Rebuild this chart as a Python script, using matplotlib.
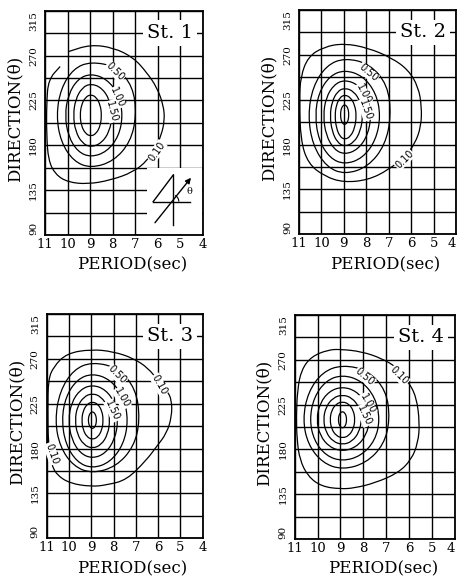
import matplotlib.pyplot as plt
from matplotlib.patches import Rectangle, Arc, PathPatch
from matplotlib.path import Path

plt.rcParams['font.family'] = ['DejaVu Serif']

# axes
periods = [11, 10, 9, 8, 7, 6, 5, 4]
period_labels = ['11', '10', '9', '8', '7', '6', '5', '4']
directions = [90, 135, 180, 225, 270, 315]
direction_labels = ['90', '135', '180', '225', '270', '315']
minor_dirs = [112.5, 157.5, 202.5, 247.5, 292.5]

# contour rings, (period, direction), outer -> inner
# St. 1
st1_r0 = [(9.96, 274), (9.0, 281), (7.97, 278), (7.08, 268), (6.49, 253), (6.04, 238),
          (5.75, 220), (5.7, 205), (5.85, 190), (6.1, 178), (6.45, 165), (7.1, 153),
          (8.1, 145), (9.1, 141), (10.0, 143), (10.55, 151), (10.85, 165), (10.93, 190),
          (10.93, 222), (10.85, 246), (10.33, 259)]
st1_r1 = [(6.95, 210), (7.1, 239), (7.85, 259), (8.97, 264), (9.74, 257), (10.3, 237),
          (10.5, 210), (10.3, 183.5), (9.74, 164), (8.97, 157), (7.96, 164), (7.21, 183.5)]
st1_r2 = [(7.55, 210), (7.73, 231), (8.26, 246.5), (8.97, 252), (9.55, 246.5), (9.97, 231),
          (10.12, 210), (9.97, 189), (9.55, 173.5), (8.97, 168), (8.26, 173.5), (7.73, 189)]
st1_r3 = [(8.02, 210), (8.14, 226), (8.49, 237.8), (8.97, 242), (9.36, 237.8), (9.65, 226),
          (9.75, 210), (9.65, 194), (9.36, 182.2), (8.97, 178), (8.49, 182.2), (8.14, 194)]
st1_r4 = [(8.49, 210), (8.55, 220.5), (8.73, 228.3), (8.97, 231), (9.21, 228.3), (9.39, 220.5),
          (9.45, 210), (9.39, 199.5), (9.21, 191.7), (8.97, 189), (8.73, 191.7), (8.55, 199.5)]

# St. 2
st2_r0 = [(9.0, 281.6), (7.92, 277), (6.87, 267), (6.13, 255), (5.68, 238), (5.53, 218),
          (5.56, 198), (5.83, 181), (6.25, 168.6), (7.02, 154.5), (7.92, 144.5), (9.0, 142),
          (9.85, 148), (10.6, 161), (10.93, 185), (10.98, 225), (10.93, 248), (10.6, 268),
          (9.9, 278)]
st2_r1 = [(6.89, 209), (7.05, 240), (7.85, 261), (8.96, 267), (9.78, 259.5), (10.39, 238),
          (10.6, 209), (10.39, 179.5), (9.78, 157.7), (8.96, 150), (7.92, 157.7), (7.16, 179.5)]
st2_r2 = [(7.36, 209), (7.57, 232), (8.16, 249), (8.96, 255), (9.63, 249), (10.12, 232),
          (10.29, 209), (10.12, 184.5), (9.63, 166.4), (8.96, 160), (8.16, 166.4), (7.57, 184.5)]
st2_r3 = [(7.78, 209), (7.93, 227), (8.37, 240.3), (8.96, 245), (9.44, 240.3), (9.8, 227),
          (9.92, 209), (9.8, 189.5), (9.44, 175.1), (8.96, 170), (8.37, 175.1), (7.93, 189.5)]
st2_r4 = [(8.15, 209), (8.26, 223), (8.55, 233.4), (8.96, 237), (9.29, 233.4), (9.53, 223),
          (9.62, 209), (9.53, 193.5), (9.29, 182), (8.96, 178), (8.55, 182), (8.26, 193.5)]
st2_r5 = [(8.44, 209), (8.51, 219.5), (8.7, 227.3), (8.96, 230), (9.18, 227.3), (9.34, 219.5),
          (9.4, 209), (9.34, 197), (9.18, 188.1), (8.96, 185), (8.7, 188.1), (8.51, 197)]
st2_r6 = [(8.78, 210), (8.8, 215), (8.87, 218.7), (8.97, 220), (9.06, 218.7), (9.13, 215),
          (9.15, 210), (9.13, 205), (9.06, 201.3), (8.97, 200), (8.87, 201.3), (8.8, 205)]

# St. 3
st3_r0 = [(10.1, 275.6), (9.0, 279.6), (8.01, 277.3), (7.11, 270.6), (6.44, 260.6), (6.0, 248),
          (5.6, 238), (5.39, 228.8), (5.39, 212), (5.62, 195.3), (6.07, 182), (6.52, 168.6),
          (7.41, 148.5), (8.31, 143.5), (8.98, 141.8), (9.95, 145), (10.55, 153.5), (10.8, 165),
          (10.93, 185), (10.95, 220), (10.93, 248.9), (10.7, 262)]
st3_r1 = [(6.81, 208.5), (7.0, 240), (7.8, 261), (8.95, 267), (9.79, 259.4), (10.41, 237.8),
          (10.63, 208.5), (10.41, 181.8), (9.79, 162), (8.95, 155), (7.88, 162), (7.09, 181.8)]
st3_r2 = [(7.34, 208.5), (7.55, 232), (8.15, 249.4), (8.95, 255.5), (9.64, 249.4), (10.15, 232),
          (10.33, 208.5), (10.15, 184.3), (9.64, 166.3), (8.95, 160), (8.15, 166.3), (7.55, 184.3)]
st3_r3 = [(7.79, 208.5), (7.94, 226.3), (8.37, 239.4), (8.95, 244), (9.49, 239.4), (9.89, 226.3),
          (10.03, 208.5), (9.89, 189.3), (9.49, 175), (8.95, 170), (8.37, 175), (7.94, 189.3)]
st3_r4 = [(8.16, 208.5), (8.26, 222), (8.55, 232), (8.95, 235.5), (9.34, 232), (9.63, 222),
          (9.73, 208.5), (9.63, 194.3), (9.34, 183.7), (8.95, 180), (8.55, 183.7), (8.26, 194.3)]
st3_r5 = [(8.46, 208.5), (8.52, 217.8), (8.7, 224.6), (8.95, 227), (9.19, 224.6), (9.37, 217.8),
          (9.43, 208.5), (9.37, 198.8), (9.19, 191.5), (8.95, 189), (8.7, 191.5), (8.52, 198.8)]
st3_r6 = [(8.765, 208.5), (8.79, 212.8), (8.86, 215.9), (8.95, 217), (9.04, 215.9), (9.11, 212.8),
          (9.135, 208.5), (9.11, 204.2), (9.04, 201.1), (8.95, 200), (8.86, 201.1), (8.79, 204.2)]

# St. 4
st4_r0 = [(10.71, 259.9), (10.27, 273.3), (9.54, 280), (9.0, 280.6), (8.08, 278.3), (7.21, 271.6),
          (6.5, 262), (6.04, 248.2), (5.68, 233.1), (5.53, 206.4), (5.61, 186.3), (5.9, 169.6),
          (6.48, 156.2), (7.5, 146.2), (8.38, 141.2), (9.0, 140.2), (9.83, 142.8), (10.42, 152.9),
          (10.78, 169.6), (10.9, 189.7), (10.93, 213), (10.88, 239.8)]
st4_r1 = [(6.83, 210), (7.0, 239.5), (7.8, 259.5), (8.91, 265), (9.78, 257.9), (10.42, 237.5),
          (10.65, 210), (10.42, 184.8), (9.78, 166.3), (8.91, 159.5), (7.87, 166.3), (7.1, 184.8)]
st4_r2 = [(7.27, 210), (7.48, 232.5), (8.09, 249.2), (8.91, 255), (9.63, 249.2), (10.16, 232.5),
          (10.35, 210), (10.16, 189), (9.63, 173.5), (8.91, 168), (8.09, 173.5), (7.48, 189)]
st4_r3 = [(7.71, 210), (7.87, 226.5), (8.31, 238.7), (8.91, 243), (9.48, 238.7), (9.9, 226.5),
          (10.05, 210), (9.9, 194), (9.48, 182.2), (8.91, 178), (8.31, 182.2), (7.87, 194)]
st4_r4 = [(8.07, 210), (8.18, 222.5), (8.49, 231.8), (8.91, 235), (9.33, 231.8), (9.64, 222.5),
          (9.75, 210), (9.64, 197.3), (9.33, 187.9), (8.91, 184.6), (8.49, 187.9), (8.18, 197.3)]
st4_r5 = [(8.36, 210), (8.43, 219), (8.63, 225.7), (8.91, 228), (9.19, 225.7), (9.39, 219),
          (9.46, 210), (9.39, 200.7), (9.19, 193.7), (8.91, 191.3), (8.63, 193.7), (8.43, 200.7)]
st4_r6 = [(8.73, 210), (8.75, 214), (8.82, 216.9), (8.91, 218), (9.0, 216.9), (9.07, 214),
          (9.09, 210), (9.07, 205.7), (9.0, 202.5), (8.91, 201.4), (8.82, 202.5), (8.75, 205.7)]

# contour labels: text, period, direction, angle
st1_labels = [('0.50', 7.89, 254, -45), ('1.00', 7.79, 228, -65), ('1.50', 8.04, 214, -75),
              ('0.10', 6.05, 174, 55)]
st2_labels = [('0.50', 7.92, 252, -40), ('1.00', 8.14, 231, -62), ('1.50', 8.04, 215, -70),
              ('0.10', 6.3, 165, 45)]
st3_labels = [('0.50', 7.86, 254, -45), ('1.00', 7.64, 230.5, -60), ('1.50', 8.04, 218, -65),
              ('0.10', 5.95, 244, -60), ('0.10', 10.78, 175, -70)]
st4_labels = [('0.50', 7.93, 253, -40), ('1.00', 7.82, 226, -60), ('1.50', 7.97, 214, -65),
              ('0.10', 6.43, 254, -45)]

fig = plt.figure(figsize=(4.57, 5.83), dpi=100)


def ring_path(pts, closed):
    # quadratic bezier through the read points (points act as control points)
    mids = [((pts[i][0] + pts[(i + 1) % len(pts)][0]) / 2,
             (pts[i][1] + pts[(i + 1) % len(pts)][1]) / 2) for i in range(len(pts))]
    if closed:
        verts = [mids[-1]]
        codes = [Path.MOVETO]
        for i in range(len(pts)):
            verts += [pts[i], mids[i]]
            codes += [Path.CURVE3, Path.CURVE3]
    else:
        verts = [pts[0], mids[0]]
        codes = [Path.MOVETO, Path.LINETO]
        for i in range(1, len(pts) - 1):
            verts += [pts[i], mids[i]]
            codes += [Path.CURVE3, Path.CURVE3]
        verts.append(pts[-1])
        codes.append(Path.LINETO)
    return Path(verts, codes)


def panel(rect, rings, open_rings, labels, name, cut_last=False):
    ax = fig.add_axes(rect)
    ax.set_xlim(11, 4)
    ax.set_ylim(90, 315)
    ax.set_xticks(periods)
    ax.set_xticklabels(period_labels, fontsize=9.5)
    if cut_last:
        ax.get_xticklabels()[-1].set_ha('right')
    ax.set_yticks(directions)
    ax.set_yticks(minor_dirs, minor=True)
    ax.set_yticklabels(direction_labels, fontsize=7.5, rotation=90, va='center')
    ax.get_yticklabels()[0].set_va('bottom')
    ax.get_yticklabels()[-1].set_va('top')
    ax.tick_params(which='both', length=0)
    ax.tick_params(axis='x', pad=2)
    ax.tick_params(axis='y', pad=5)
    ax.grid(which='both', color='black', lw=1.0)
    ax.set_axisbelow(True)
    for s in ax.spines.values():
        s.set_linewidth(1.3)
    for i, ring in enumerate(rings):
        ax.add_patch(PathPatch(ring_path(ring, i not in open_rings), fill=False,
                               ec='black', lw=0.9, zorder=3))
    for txt, p, d, ang in labels:
        ax.text(p, d, txt, fontsize=7, family='DejaVu Sans', rotation=ang,
                ha='center', va='center', zorder=4,
                bbox=dict(boxstyle='square,pad=0.05', fc='white', ec='none'))
    ax.text(0.79, 0.9, name, transform=ax.transAxes, fontsize=14, ha='center', va='center',
            zorder=5, bbox=dict(boxstyle='square,pad=0.2', fc='white', ec='none'))
    ax.text(0.55, -0.135, 'PERIOD(sec)', transform=ax.transAxes, fontsize=12,
            ha='center', va='center')
    ax.text(-0.19, 0.52, 'DIRECTION(\u03b8)', transform=ax.transAxes, fontsize=12,
            rotation=90, ha='center', va='center')
    return ax


ax1 = panel([0.0985, 0.5969, 0.3457, 0.3847], [st1_r0, st1_r1, st1_r2, st1_r3, st1_r4],
            [0], st1_labels, 'St. 1')
ax2 = panel([0.6543, 0.5981, 0.3435, 0.3847],
            [st2_r0, st2_r1, st2_r2, st2_r3, st2_r4, st2_r5, st2_r6], [], st2_labels, 'St. 2',
            cut_last=True)
ax3 = panel([0.1022, 0.0767, 0.3414, 0.3847],
            [st3_r0, st3_r1, st3_r2, st3_r3, st3_r4, st3_r5, st3_r6], [], st3_labels, 'St. 3')
ax4 = panel([0.6449, 0.0755, 0.3501, 0.3842],
            [st4_r0, st4_r1, st4_r2, st4_r3, st4_r4, st4_r5, st4_r6], [], st4_labels, 'St. 4',
            cut_last=True)

# direction sketch in St. 1
ax1.add_patch(Rectangle((0.645, 0.004), 0.35, 0.294, transform=ax1.transAxes,
                        fc='white', ec='none', zorder=2.5))
kw = dict(transform=ax1.transAxes, color='black', lw=1.0, zorder=5)
ax1.plot([0.812, 0.812], [0.045, 0.268], **kw)
ax1.plot([0.685, 0.812], [0.149, 0.268], **kw)
ax1.plot([0.685, 0.918], [0.149, 0.149], **kw)
ax1.annotate('', xy=(0.935, 0.265), xytext=(0.685, 0.045), xycoords='axes fraction',
             arrowprops=dict(arrowstyle='-|>', color='black', lw=1.0, mutation_scale=8),
             zorder=5)
ax1.add_patch(Arc((0.802, 0.149), 0.09, 0.063, theta1=0, theta2=52,
                  transform=ax1.transAxes, color='black', lw=0.8, zorder=5))
ax1.text(0.913, 0.195, '\u03b8', transform=ax1.transAxes, fontsize=7, ha='center',
         va='center', zorder=5)

fig.savefig('out.png', dpi=100)
